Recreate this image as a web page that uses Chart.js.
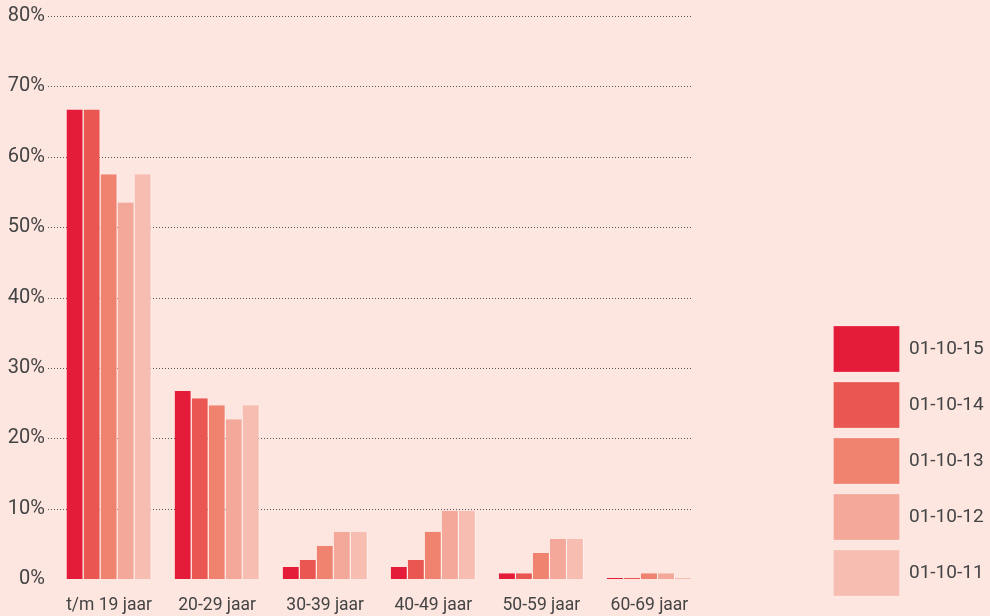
<!DOCTYPE html>
<html>
<head>
<meta charset="utf-8">
<script src="https://cdn.jsdelivr.net/npm/chart.js@4.4.0/dist/chart.umd.min.js"></script>
<style>
  html, body { margin: 0; padding: 0; background: #fde5e0; }
  #wrap { width: 990px; height: 616px; position: relative; }
</style>
</head>
<body>
<div id="wrap"><canvas id="chart"></canvas></div>
<script>
const categories = ['t/m 19 jaar', '20-29 jaar', '30-39 jaar', '40-49 jaar', '50-59 jaar', '60-69 jaar'];
const seriesLabels = ['01-10-15', '01-10-14', '01-10-13', '01-10-12', '01-10-11'];
const values15 = [66.7, 26.7, 1.7, 1.7, 0.8, 0];
const values14 = [66.7, 25.7, 2.7, 2.7, 0.8, 0];
const values13 = [57.5, 24.7, 4.7, 6.7, 3.7, 0.8];
const values12 = [53.5, 22.7, 6.7, 9.7, 5.7, 0.8];
const values11 = [57.5, 24.7, 6.7, 9.7, 5.7, 0];
const yTicks = [0, 10, 20, 30, 40, 50, 60, 70, 80];

const colors = ['#e41b39', '#ea5752', '#f08270', '#f3a89a', '#f7bdb1'];
const allValues = [values15, values14, values13, values12, values11];

// dotted gridlines, drawn under the bars
const dottedGrid = {
  id: 'dottedGrid',
  afterLayout(chart) {
    // lift the legend column a little off the bottom edge
    chart.legend.bottom -= 10;
  },
  beforeDatasetsDraw(chart) {
    const { ctx, chartArea, scales } = chart;
    ctx.save();
    ctx.strokeStyle = '#555';
    ctx.lineWidth = 1;
    ctx.setLineDash([1, 2]);
    yTicks.forEach(t => {
      if (t === 0) return;
      const y = Math.round(scales.y.getPixelForValue(t)) + 0.5;
      ctx.beginPath();
      ctx.moveTo(chartArea.left - 7, y);
      ctx.lineTo(chartArea.right - 11, y);
      ctx.stroke();
    });
    ctx.restore();
  }
};

new Chart(document.getElementById('chart'), {
  type: 'bar',
  data: {
    labels: categories,
    datasets: seriesLabels.map((label, i) => ({
      label: label,
      data: allValues[i],
      backgroundColor: colors[i],
      borderColor: '#fff6f3',
      borderWidth: { top: 0, left: 0, bottom: 0, right: 1 },
      borderSkipped: false,
      minBarLength: 1,
      categoryPercentage: 0.787,
      barPercentage: 1.0
    }))
  },
  options: {
    responsive: true,
    maintainAspectRatio: false,
    animation: false,
    layout: { padding: { left: 6, top: 0, right: 3, bottom: 0 } },
    scales: {
      x: {
        grid: { display: false, drawTicks: false },
        border: { display: false },
        ticks: { color: '#444', font: { family: 'Roboto', size: 17.5 }, padding: 16 },
        afterFit(scale) { scale.height = 37; }
      },
      y: {
        min: 0,
        max: 80,
        afterBuildTicks(scale) { scale.ticks = yTicks.map(v => ({ value: v })); },
        afterFit(scale) { scale.width = 49; scale.paddingTop = 16; scale.paddingBottom = 0; },
        grid: { display: false, drawTicks: false },
        border: { display: false },
        ticks: {
          color: '#444',
          font: { family: 'Roboto', size: 20 },
          padding: 10,
          callback: v => v + '%'
        }
      },
      gap: {
        position: 'right',
        grid: { display: false },
        border: { display: false },
        ticks: { display: false },
        afterFit(scale) { scale.width = 120; }
      }
    },
    plugins: {
      legend: {
        position: 'right',
        align: 'end',
        labels: {
          boxWidth: 66,
          boxHeight: 46,
          padding: 10,
          color: '#444',
          font: { family: 'Roboto', size: 19 }
        }
      },
      tooltip: { enabled: false }
    }
  },
  plugins: [dottedGrid]
});
</script>
</body>
</html>
